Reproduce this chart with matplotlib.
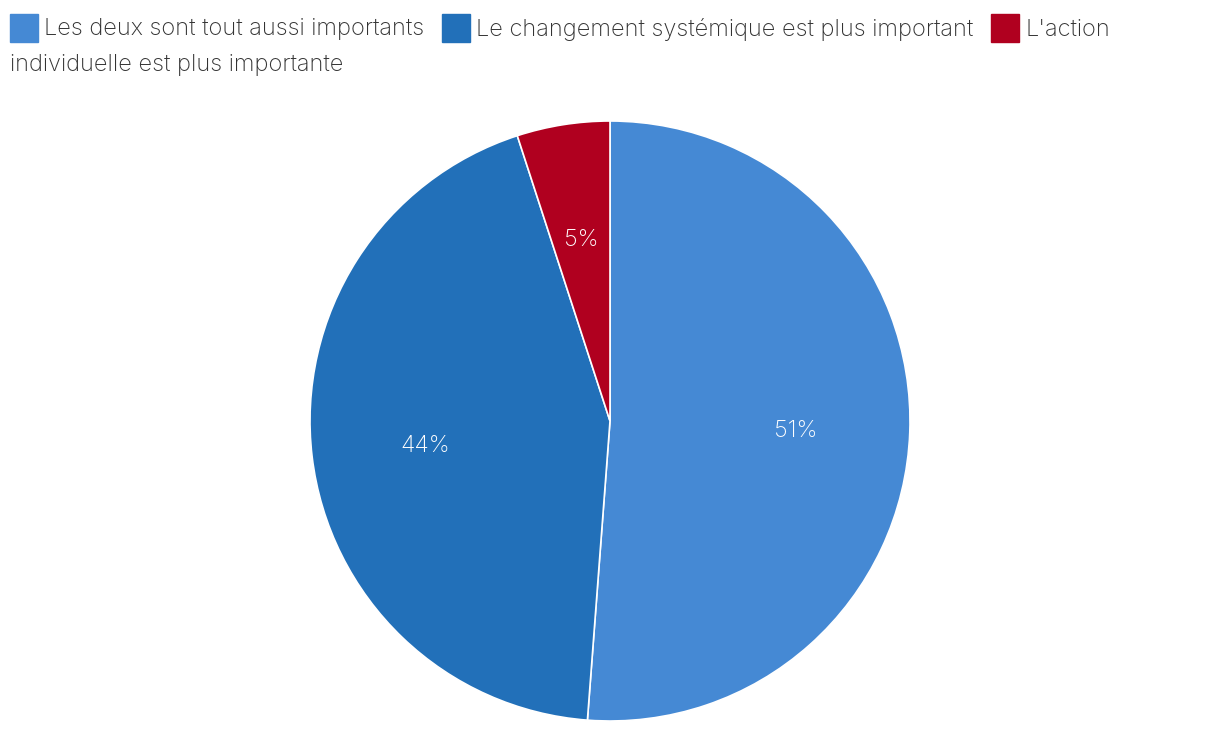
import matplotlib
matplotlib.use("Agg")
import matplotlib.pyplot as plt
from matplotlib.patches import Rectangle

plt.rcParams['font.family'] = ['Inter', 'Roboto', 'DejaVu Sans']

# data
categories = ["Les deux sont tout aussi importants",
              "Le changement systémique est plus important",
              "L'action individuelle est plus importante"]
shares = [51.2, 43.8, 5.0]
colors = ["#4589d4", "#2270b9", "#b0001f"]

W, H = 1220, 732
fig = plt.figure(figsize=(W / 100, H / 100), dpi=100)

# pie
r_px = 300
cx, cy = 610, 421
ax = fig.add_axes([(cx - r_px) / W, (H - cy - r_px) / H, 2 * r_px / W, 2 * r_px / H])
wedges, _, autotexts = ax.pie(shares, colors=colors, startangle=90, counterclock=False,
                              autopct=lambda p: f"{p:.0f}%", pctdistance=0.62,
                              wedgeprops=dict(edgecolor="white", linewidth=1.2),
                              textprops=dict(color="white", fontsize=17, fontweight="light"))
for t in autotexts:
    t.set_va("center_baseline")
ax.set_xlim(-1, 1)
ax.set_ylim(-1, 1)
ax.set_aspect("equal")
ax.axis("off")

# legend, drawn by hand so it wraps like the original
fs = 17
txt_col = "#333333"
fig.canvas.draw()
renderer = fig.canvas.get_renderer()

def px2fig(x, y):
    return x / W, 1 - y / H

x = 10
row_y = 28
for i, (lab, col) in enumerate(zip(categories, colors)):
    fig.patches.append(Rectangle(px2fig(x, row_y + 14), 28 / W, 28 / H,
                                 transform=fig.transFigure, color=col, figure=fig))
    if i == 2:
        first, rest = "L'action", "individuelle est plus importante"
    else:
        first, rest = lab, None
    t = fig.text(*px2fig(x + 34, row_y + 1.5), first, fontsize=fs, fontweight="light",
                 color=txt_col, va="center", ha="left")
    bb = t.get_window_extent(renderer)
    x = bb.x1 + 18
    if rest:
        fig.text(*px2fig(10, row_y + 37.5), rest, fontsize=fs, fontweight="light",
                 color=txt_col, va="center", ha="left")

fig.savefig("out.png", dpi=100, facecolor="white")
